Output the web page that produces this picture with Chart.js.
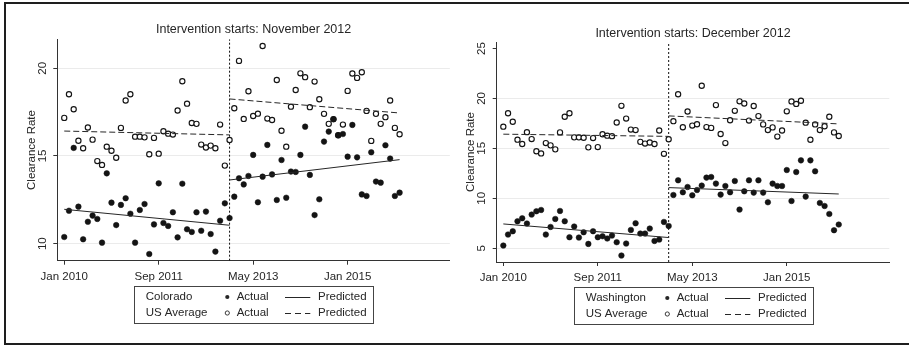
<!DOCTYPE html>
<html>
<head>
<meta charset="utf-8">
<script src="https://cdn.jsdelivr.net/npm/chart.js@4.4.1/dist/chart.umd.min.js"></script>
<style>
  html, body { margin: 0; padding: 0; background: #fff; }
  body { width: 909px; height: 346px; position: relative; overflow: hidden; }
  .frame {
    position: absolute; left: 4px; top: 2px; width: 910px; height: 343px; box-sizing: border-box;
    border-top: 2px solid #1e1e1e; border-left: 2px solid #1e1e1e; border-bottom: 2px solid #1e1e1e;
  }
  canvas { position: absolute; top: 0; }
</style>
</head>
<body>
<div class="frame"></div>
<canvas id="left" width="455" height="346" style="left:0px"></canvas>
<canvas id="right" width="454" height="346" style="left:455px"></canvas>
<script>
// months since Jan 2010
const xTickValues = [0, 20, 40, 60];
const xTickLabels = ['Jan 2010', 'Sep 2011', 'May 2013', 'Jan 2015'];
const interventionMonth = 35;
const lastMonth = 71;

const usActual = [17.17, 18.52, 17.66, 15.87, 15.44, 16.62, 15.93, 14.71, 14.49, 15.53,
  15.30, 14.90, 16.60, 18.16, 18.52, 16.10, 16.10, 16.06, 15.10, 16.03,
  15.13, 16.41, 16.27, 16.22, 17.59, 19.26, 17.98, 16.88, 16.83, 15.65,
  15.48, 15.59, 15.44, 16.79, 14.45, 15.91, 17.72, 20.42, 17.11, 18.69,
  17.28, 17.41, 21.27, 17.13, 17.05, 19.33, 16.44, 15.53, 17.81, 18.76,
  19.71, 19.49, 17.78, 19.24, 18.23, 17.40, 16.83, 17.10, 16.18, 16.79,
  18.71, 19.70, 19.45, 19.77, 17.57, 15.86, 17.40, 16.83, 17.21, 18.16,
  16.60, 16.24];
const usPredPre = [16.42, 16.20];
const usPredPost = [18.25, 17.45];

const coActual = [10.38, 11.88, 15.46, 12.11, 10.25, 11.25, 11.60, 11.41, 10.06, 14.01,
  12.34, 11.06, 12.21, 12.59, 11.71, 10.06, 11.92, 12.26, 9.41, 11.10,
  13.44, 11.18, 11.01, 11.79, 10.36, 13.42, 10.82, 10.67, 11.79, 10.74,
  11.83, 10.55, 9.55, 11.31, 12.30, 11.46, 12.68, 13.73, 13.38, 13.86,
  15.06, 12.36, 13.82, 15.63, 13.95, 12.49, 14.77, 12.62, 14.11, 14.09,
  15.06, 16.67, 13.92, 11.63, 12.53, 15.82, 16.39, 17.09, 16.18, 16.25,
  14.96, 16.77, 14.92, 12.81, 12.72, 15.21, 13.54, 13.48, 15.61, 14.85,
  12.72, 12.91];
const coPredPre = [11.96, 11.05];
const coPredPost = [13.63, 14.79];

const waActual = [5.27, 6.37, 6.70, 7.70, 8.00, 7.47, 8.37, 8.70, 8.83, 6.37,
  7.13, 7.93, 8.73, 7.70, 6.10, 7.17, 6.07, 6.60, 5.43, 6.70,
  6.10, 6.20, 5.97, 6.27, 5.60, 4.27, 5.47, 6.83, 7.50, 6.47,
  6.47, 6.97, 5.73, 5.87, 7.63, 7.23, 10.33, 11.80, 10.60, 11.13,
  10.30, 10.83, 11.27, 12.07, 12.13, 11.47, 10.37, 11.23, 10.60, 11.73,
  8.87, 10.70, 11.80, 10.57, 11.80, 10.57, 9.60, 11.47, 11.23, 11.23,
  12.83, 9.73, 12.63, 13.80, 10.17, 13.80, 12.70, 9.53, 9.23, 8.43,
  6.80, 7.37];
const waPredPre = [7.43, 6.07];
const waPredPost = [11.07, 10.43];

const coYTicks = [10, 15, 20];
const waYTicks = [5, 10, 15, 20, 25];

const FONT = '"Liberation Sans", Arial, sans-serif';
const INK = '#262626';
Chart.defaults.font.family = FONT;

// legend drawn as a boxed 3-column key under the plot
const panelLegend = {
  id: 'panelLegend',
  afterDraw(chart, args, o) {
    if (!o.rows) return;
    const ctx = chart.ctx;
    const ca = chart.chartArea;
    const w = 239, h = 37;
    const x0 = Math.round((ca.left + ca.right) / 2 - w / 2);
    const y0 = o.top;
    ctx.save();
    ctx.strokeStyle = '#444';
    ctx.lineWidth = 1;
    ctx.strokeRect(x0 + 0.5, y0 + 0.5, w, h);
    ctx.font = '11.5px ' + FONT;
    ctx.fillStyle = INK;
    ctx.textBaseline = 'middle';
    o.rows.forEach((row, r) => {
      const y = y0 + 11 + r * 16;
      ctx.fillText(row.name, x0 + 11.7, y);
      ctx.beginPath();
      ctx.arc(x0 + 93.3, y, 2.1, 0, Math.PI * 2);
      if (row.filled) { ctx.fillStyle = INK; ctx.fill(); }
      else { ctx.strokeStyle = INK; ctx.lineWidth = 0.9; ctx.stroke(); }
      ctx.fillStyle = INK;
      ctx.fillText('Actual', x0 + 102.7, y);
      ctx.strokeStyle = INK;
      ctx.lineWidth = 1;
      ctx.setLineDash(row.dash);
      ctx.beginPath();
      ctx.moveTo(x0 + 151, y + 0.5);
      ctx.lineTo(x0 + 176.3, y + 0.5);
      ctx.stroke();
      ctx.setLineDash([]);
      ctx.fillText('Predicted', x0 + 184, y);
    });
    ctx.restore();
  }
};

function makePanel(id, p) {
  const pts = arr => arr.map((y, i) => ({x: i, y: y}));
  const seg = (a, b, ends) => [{x: a, y: ends[0]}, {x: b, y: ends[1]}];
  const lineDs = (label, data, dash) => ({
    type: 'line', label: label, data: data, borderColor: INK, borderWidth: 1,
    borderDash: dash, pointRadius: 0, fill: false, tension: 0
  });
  return new Chart(document.getElementById(id), {
    type: 'scatter',
    data: {
      datasets: [
        lineDs(p.stateName + ' Predicted', seg(0, interventionMonth, p.statePre), []),
        lineDs(p.stateName + ' Predicted', seg(interventionMonth, lastMonth, p.statePost), []),
        lineDs('US Average Predicted', seg(0, interventionMonth, usPredPre), [6, 3]),
        lineDs('US Average Predicted', seg(interventionMonth, lastMonth, usPredPost), [6, 3]),
        { label: p.stateName + ' Actual', data: pts(p.stateActual), pointRadius: 2.8,
          backgroundColor: '#141414', borderColor: '#141414', borderWidth: 0.5 },
        { label: 'US Average Actual', data: pts(usActual), pointRadius: 2.6,
          backgroundColor: '#fff', borderColor: '#141414', borderWidth: 1.15 },
        { type: 'line', label: 'Intervention', data: seg(interventionMonth, interventionMonth, p.yRange),
          borderColor: '#111', borderWidth: 1, borderDash: [2, 2], pointRadius: 0, fill: false }
      ]
    },
    options: {
      responsive: false,
      animation: false,
      layout: { padding: { left: 0, right: p.padRight, top: 0, bottom: 0 } },
      plugins: {
        legend: { display: false },
        tooltip: { enabled: false },
        title: {
          display: true, text: p.title, color: INK, fullSize: false,
          font: { size: 12.5, weight: 'normal', lineHeight: 1 },
          padding: { top: p.titleTop, bottom: p.titleBottom }
        },
        panelLegend: {
          top: p.legendTop,
          rows: [
            { name: p.stateName, filled: true, dash: [] },
            { name: 'US Average', filled: false, dash: [6, 4] }
          ]
        }
      },
      scales: {
        x: {
          type: 'linear', min: p.xRange[0], max: p.xRange[1],
          afterBuildTicks: s => { s.ticks = xTickValues.map(v => ({value: v})); },
          afterFit: s => { s.height = p.xAxisHeight; },
          ticks: {
            callback: (v, i) => xTickLabels[i], color: INK, font: { size: 11.5 },
            padding: 5, minRotation: 0, maxRotation: 0, autoSkip: false
          },
          grid: { drawOnChartArea: false, drawTicks: true, tickLength: 4, tickColor: '#333' },
          border: { display: true, color: '#333', width: 1 }
        },
        y: {
          type: 'linear', min: p.yRange[0], max: p.yRange[1],
          afterBuildTicks: s => { s.ticks = p.yTicks.map(v => ({value: v})); },
          afterFit: s => { s.width = p.yAxisWidth; },
          ticks: {
            color: INK, font: { size: 11.5 }, padding: 4.5,
            minRotation: 90, maxRotation: 90, crossAlign: 'center'
          },
          grid: {
            color: c => (c.tick && c.tick.value > 24) ? 'rgba(0,0,0,0)' : '#ebebeb',
            lineWidth: 1, drawTicks: true, tickLength: 4, tickColor: '#333'
          },
          border: { display: true, color: '#333', width: 1 },
          title: {
            display: true, text: 'Clearance Rate', color: INK, font: { size: 11.5 },
            padding: { top: p.yTitlePad, bottom: 0 }
          }
        }
      }
    },
    plugins: [panelLegend]
  });
}

makePanel('left', {
  title: 'Intervention starts: November 2012',
  stateName: 'Colorado',
  stateActual: coActual, statePre: coPredPre, statePost: coPredPost,
  yTicks: coYTicks, yRange: [9.03, 21.65], xRange: [-1.47, 81.64],
  padRight: 3.3, yAxisWidth: 57.3, xAxisHeight: 85.3,
  titleTop: 23.4, titleBottom: 3.4, yTitlePad: 24.5, legendTop: 286
});

makePanel('right', {
  title: 'Intervention starts: December 2012',
  stateName: 'Washington',
  stateActual: waActual, statePre: waPredPre, statePost: waPredPost,
  yTicks: waYTicks, yRange: [3.62, 25.65], xRange: [-1.4, 81.7],
  padRight: 19.7, yAxisWidth: 41.7, xAxisHeight: 84,
  titleTop: 26.9, titleBottom: 2.6, yTitlePad: 9.3, legendTop: 287
});
</script>
</body>
</html>
